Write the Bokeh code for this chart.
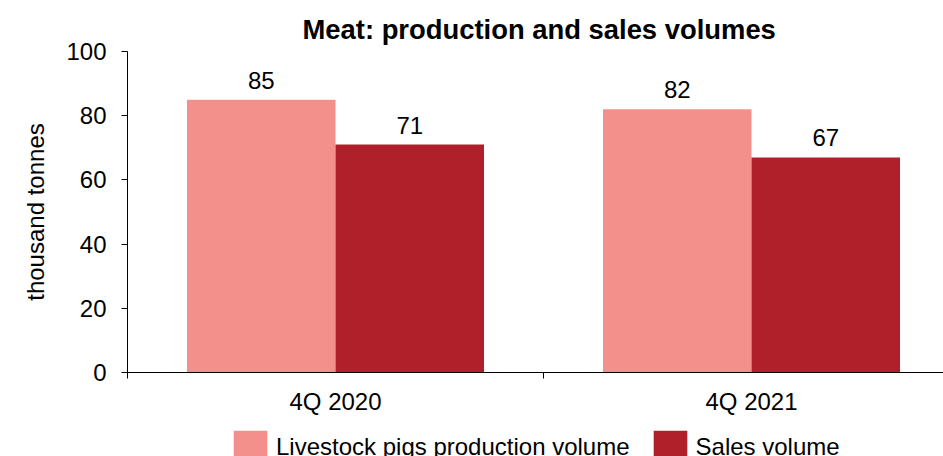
import numpy as np
from bokeh.plotting import figure
from bokeh.layouts import column
from bokeh.models import (ColumnDataSource, Range1d, FixedTicker, CustomJSTickFormatter,
                          LabelSet, Legend, LegendItem)
from bokeh.core.properties import value
from bokeh.embed import file_html
from bokeh.resources import INLINE

categories = ["4Q 2020", "4Q 2021"]
production = [85, 82]
sales = [71, 67]
series_names = ["Livestock pigs production volume", "Sales volume"]
colors = ["#F4908B", "#B0202A"]
y_ticks = [0, 20, 40, 60, 80, 100]

FONT = "Liberation Sans"
FS = "24px"

idx = np.arange(len(categories))
bar_w = 0.357
x_prod = idx + 0.5 - bar_w / 2
x_sales = idx + 0.5 + bar_w / 2

src_p = ColumnDataSource(dict(x=x_prod, top=production, lbl=[str(v) for v in production]))
src_s = ColumnDataSource(dict(x=x_sales, top=sales, lbl=[str(v) for v in sales]))

W = 943
H_MAIN, H_LEG = 422, 34
left, top_b, bottom_b = 127, 51, 50
frame_w = W - left
x_end = frame_w / 416.0

p = figure(width=W, height=H_MAIN, output_backend="svg", toolbar_location=None,
           x_range=Range1d(0, x_end), y_range=Range1d(0, 100),
           min_border_left=left, min_border_right=0, min_border_top=top_b,
           min_border_bottom=bottom_b, title="Meat: production and sales volumes")
p.outline_line_color = None
p.grid.visible = False
p.background_fill_color = "white"
p.border_fill_color = "white"

p.title.text_font = FONT
p.title.text_font_size = "27.4px"
p.title.text_font_style = "bold"
p.title.text_color = "black"
p.title.align = "left"
p.title.offset = 175
p.title.standoff = 14

p.vbar(x="x", top="top", width=bar_w, bottom=0, source=src_p, fill_color=colors[0], line_color=None)
p.vbar(x="x", top="top", width=bar_w, bottom=0, source=src_s, fill_color=colors[1], line_color=None)

for src in (src_p, src_s):
    p.add_layout(LabelSet(x="x", y="top", text="lbl", source=src, y_offset=11,
                          text_align="center", text_baseline="alphabetic",
                          text_font=value(FONT), text_font_size=value(FS), text_color="black"))

# y axis
ya = p.yaxis[0]
ya.ticker = FixedTicker(ticks=y_ticks)
ya.axis_label = "thousand tonnes"
ya.axis_label_text_font = FONT
ya.axis_label_text_font_size = FS
ya.axis_label_text_font_style = "normal"
ya.axis_label_text_color = "black"
ya.axis_label_standoff = 14
ya.major_label_text_font = FONT
ya.major_label_text_font_size = FS
ya.major_label_text_color = "black"
ya.major_tick_in = 0
ya.major_tick_out = 6
ya.minor_tick_line_color = None
ya.major_label_standoff = 15
ya.axis_line_color = "black"
ya.major_tick_line_color = "black"

# x axis
xa = p.xaxis[0]
xa.ticker = FixedTicker(ticks=list(idx + 0.5), minor_ticks=list(np.arange(len(categories) + 1)))
xa.formatter = CustomJSTickFormatter(args=dict(labels=categories),
                                     code="return labels[Math.floor(tick)] || '';")
xa.major_tick_line_color = None
xa.major_tick_in = 0
xa.major_tick_out = 0
xa.minor_tick_in = 0
xa.minor_tick_out = 6
xa.minor_tick_line_color = "black"
xa.major_label_text_font = FONT
xa.major_label_text_font_size = FS
xa.major_label_text_color = "black"
xa.major_label_standoff = 9
xa.axis_line_color = "black"

# legend strip below the chart (its own frame aligned with the chart frame)
lg = figure(width=W, height=H_LEG, output_backend="svg", toolbar_location=None,
            x_range=Range1d(0, x_end), y_range=Range1d(-1001, -1000),
            min_border_left=left, min_border_right=0, min_border_top=0, min_border_bottom=0)
lg.axis.visible = False
lg.grid.visible = False
lg.outline_line_color = None
lg.background_fill_color = "white"
lg.border_fill_color = "white"
d1 = lg.vbar(x="x", top="top", width=bar_w, bottom=0, source=src_p, fill_color=colors[0], line_color=None)
d2 = lg.vbar(x="x", top="top", width=bar_w, bottom=0, source=src_s, fill_color=colors[1], line_color=None)
d1.visible = False
d2.visible = False
legend = Legend(items=[LegendItem(label=series_names[0], renderers=[d1]),
                       LegendItem(label=series_names[1], renderers=[d2])],
                orientation="horizontal", location=(229 - left, -12),
                glyph_width=42, glyph_height=42, label_standoff=5, spacing=19,
                padding=0, margin=0, border_line_color=None, background_fill_alpha=0,
                inactive_fill_alpha=0,
                label_text_font=FONT, label_text_font_size=FS, label_text_color="black")
lg.add_layout(legend, "center")

layout = column(p, lg, spacing=0)
open("out.html", "w").write(file_html(layout, INLINE))
